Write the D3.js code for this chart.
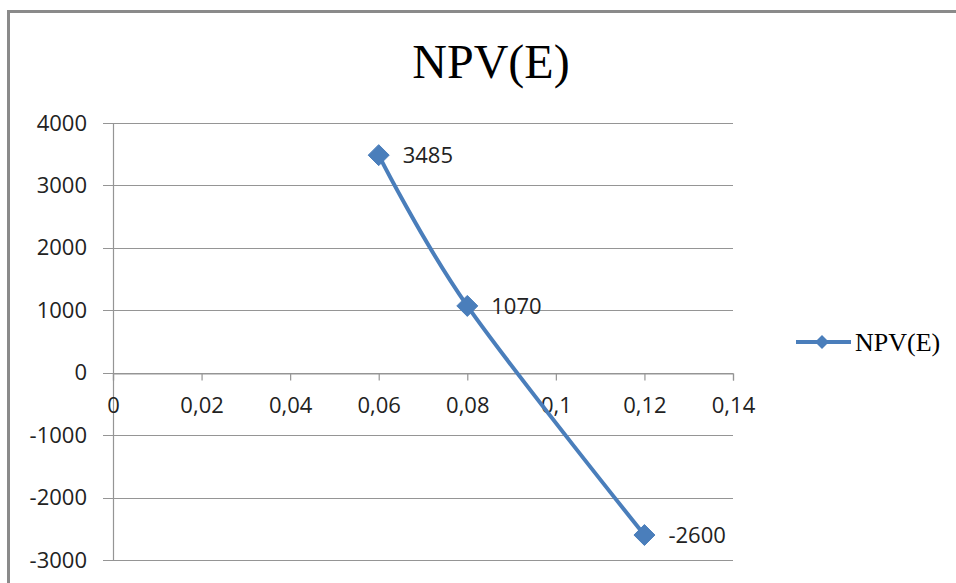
<!DOCTYPE html>
<html><head><meta charset="utf-8">
<script src="https://cdn.jsdelivr.net/npm/d3@7"></script>
<style>
html,body{margin:0;padding:0;background:#fff;}
svg{display:block;}
</style></head>
<body>
<svg id="chart" width="956" height="583"></svg>
<script>
const seriesName = "NPV(E)";
const rates = [0.06, 0.08, 0.12];
const npv = [3485, 1070, -2600];
const xTicks = [0, 0.02, 0.04, 0.06, 0.08, 0.1, 0.12, 0.14];
const yTicks = [-3000, -2000, -1000, 0, 1000, 2000, 3000, 4000];

const svg = d3.select("#chart");
const W = 956, H = 583;
const color = "#4a7ebb";
const gridColor = "#959595";
const labelFont = "'Open Sans', Lato, sans-serif";
const labelSize = 22;

// outer border
svg.append("rect").attr("x", 8.5).attr("y", 11.5).attr("width", W + 10).attr("height", H + 10)
  .attr("fill", "none").attr("stroke", "#8a8a8a").attr("stroke-width", 3);

const x = d3.scaleLinear().domain([0, 0.14]).range([113, 733]);
const y = d3.scaleLinear().domain([-3000, 4000]).range([560, 123]);

// title
svg.append("text").attr("x", 491).attr("y", 78).attr("text-anchor", "middle")
  .attr("font-family", "'Liberation Serif', 'Times New Roman', serif").attr("font-size", 48)
  .attr("fill", "#000").text(seriesName);

// y axis (labels only; gridlines drawn separately)
const yAxis = d3.axisLeft(y).tickValues(yTicks).tickSize(0).tickPadding(26)
  .tickFormat(d => String(d));
const gy = svg.append("g").attr("transform", `translate(${x(0)},0)`).call(yAxis);
gy.select(".domain").attr("stroke", gridColor).attr("stroke-width", 1.2);
gy.selectAll(".tick line").remove();
gy.selectAll(".tick text").attr("font-family", labelFont).attr("font-size", labelSize).attr("fill", "#222");

const grid = svg.append("g");
grid.selectAll("line").data(yTicks).join("line")
  .attr("x1", 103).attr("x2", x(0.14))
  .attr("y1", d => Math.round(y(d)) + 0.5).attr("y2", d => Math.round(y(d)) + 0.5)
  .attr("stroke", gridColor).attr("stroke-width", 1.2);

// x axis at y=0
const xAxis = d3.axisBottom(x).tickValues(xTicks).tickSizeOuter(0).tickSize(7).tickPadding(17)
  .tickFormat(d => d === 0 ? "0" : String(+d.toFixed(2)).replace(".", ","));
const gx = svg.append("g").attr("transform", `translate(0,${Math.round(y(0)) + 0.5})`).call(xAxis);
gx.select(".domain").attr("stroke", gridColor).attr("stroke-width", 1.2);
gx.selectAll(".tick line").attr("stroke", gridColor).attr("stroke-width", 1.2);
gx.selectAll(".tick text").attr("font-family", labelFont).attr("font-size", labelSize).attr("fill", "#222");

// series
const pts = rates.map((r, i) => [r, npv[i]]);
const line = d3.line().x(d => x(d[0])).y(d => y(d[1])).curve(d3.curveCardinal.tension(0));
svg.append("path").datum(pts).attr("d", line).attr("fill", "none")
  .attr("stroke", color).attr("stroke-width", 4).attr("stroke-linejoin", "round");

const diamond = (cx, cy, r) => `M${cx},${cy - r}L${cx + r},${cy}L${cx},${cy + r}L${cx - r},${cy}Z`;
svg.append("g").selectAll("path").data(pts).join("path")
  .attr("d", d => diamond(x(d[0]), y(d[1]), 10.5)).attr("fill", color)
  .attr("stroke", color).attr("stroke-width", 1).attr("stroke-linejoin", "round");

svg.append("g").selectAll("text").data(pts).join("text")
  .attr("x", d => x(d[0]) + 24).attr("y", d => y(d[1]))
  .attr("dy", "0.36em")
  .attr("font-family", labelFont).attr("font-size", labelSize).attr("fill", "#222")
  .text(d => String(d[1]));

// legend
const lg = svg.append("g");
lg.append("line").attr("x1", 796).attr("x2", 851).attr("y1", 342).attr("y2", 342)
  .attr("stroke", color).attr("stroke-width", 4);
lg.append("path").attr("d", diamond(822, 342, 7)).attr("fill", color);
lg.append("text").attr("x", 855).attr("y", 342).attr("dy", "0.34em")
  .attr("font-family", "'Liberation Serif', 'Times New Roman', serif").attr("font-size", 26)
  .attr("fill", "#000").text(seriesName);
</script>
</body></html>
